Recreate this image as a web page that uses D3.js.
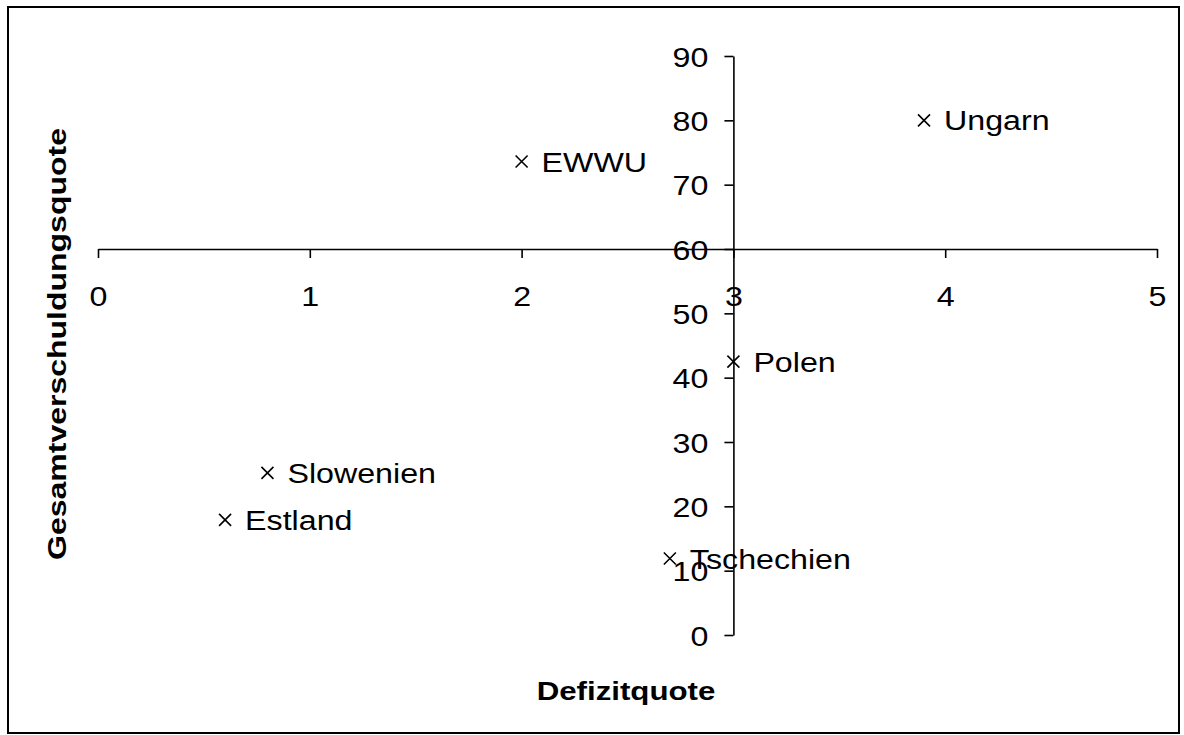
<!DOCTYPE html>
<html>
<head>
<meta charset="utf-8">
<script src="https://cdn.jsdelivr.net/npm/d3@7"></script>
<style>
  html, body { margin: 0; padding: 0; background: #fff; }
  svg { display: block; }
  text { font-family: "Liberation Sans", Arial, sans-serif; fill: #000; }
</style>
</head>
<body>
<svg id="chart" width="1184" height="735"></svg>
<script>
// ---- data ----
const countries = ["Ungarn", "EWWU", "Polen", "Slowenien", "Estland", "Tschechien"];
const defizit   = [3.9, 2.0, 3.0, 0.8, 0.6, 2.7];
const schulden  = [80.0, 73.6, 42.5, 25.2, 17.9, 11.9];
const xTicks = [0, 1, 2, 3, 4, 5];
const yTicks = [0, 10, 20, 30, 40, 50, 60, 70, 80, 90];
const xTitle = "Defizitquote";
const yTitle = "Gesamtverschuldungsquote";

const svg = d3.select("#chart");
const W = 1184, H = 735;

// outer frame
svg.append("rect")
  .attr("x", 8).attr("y", 7).attr("width", 1171).attr("height", 726)
  .attr("fill", "#fff").attr("stroke", "#000").attr("stroke-width", 2);

const x = d3.scaleLinear().domain([0, 5]).range([98, 1157]);
const y = d3.scaleLinear().domain([0, 90]).range([635, 56]);

const SX = 1.15; // horizontal stretch of the text

// x axis, crossing at y = 60
const gx = svg.append("g")
  .attr("transform", `translate(0,${y(60)})`)
  .call(d3.axisBottom(x).tickValues(xTicks).tickSize(9).tickSizeOuter(0).tickFormat(d3.format("d")));
gx.select(".domain").attr("stroke", "#000").attr("stroke-width", 1.6);
gx.selectAll(".tick line").attr("stroke", "#000").attr("stroke-width", 1.6);
gx.selectAll(".tick text")
  .attr("y", 37).attr("dy", "0.71em")
  .attr("font-size", 28).attr("font-family", "Liberation Sans, Arial, sans-serif")
  .attr("fill", "#000")
  .attr("transform", `scale(${SX},1)`);

// y axis, crossing at x = 3
const gy = svg.append("g")
  .attr("transform", `translate(${x(3)},0)`)
  .call(d3.axisLeft(y).tickValues(yTicks).tickSize(9).tickSizeOuter(0).tickFormat(d3.format("d")));
gy.select(".domain").attr("stroke", "#000").attr("stroke-width", 1.6);
gy.selectAll(".tick line").attr("stroke", "#000").attr("stroke-width", 1.6);
gy.selectAll(".tick text")
  .attr("x", -25 / SX).attr("dy", "0.36em")
  .attr("font-size", 28).attr("font-family", "Liberation Sans, Arial, sans-serif")
  .attr("fill", "#000")
  .attr("transform", `scale(${SX},1)`);

// points
const pts = countries.map((c, i) => ({ name: c, dx: defizit[i], dy: schulden[i] }));
const m = 6;
const gp = svg.append("g");
const pg = gp.selectAll("g.pt").data(pts).enter().append("g")
  .attr("class", "pt")
  .attr("transform", d => `translate(${x(d.dx)},${y(d.dy)})`);
pg.append("path")
  .attr("d", `M${-m},${-m}L${m},${m}M${-m},${m}L${m},${-m}`)
  .attr("stroke", "#000").attr("stroke-width", 1.6).attr("fill", "none");
pg.append("text")
  .attr("transform", `translate(20,0) scale(${SX},1)`)
  .attr("dy", "0.36em")
  .attr("font-size", 28)
  .text(d => d.name);

// axis titles
const TS = 1.25;
svg.append("text")
  .attr("transform", `translate(626,700) scale(${TS},1)`)
  .attr("text-anchor", "middle")
  .attr("font-size", 25).attr("font-weight", "bold")
  .text(xTitle);

svg.append("text")
  .attr("transform", `translate(66,344) rotate(-90) scale(${TS + 0.03},1)`)
  .attr("text-anchor", "middle")
  .attr("font-size", 25).attr("font-weight", "bold")
  .text(yTitle);
</script>
</body>
</html>
